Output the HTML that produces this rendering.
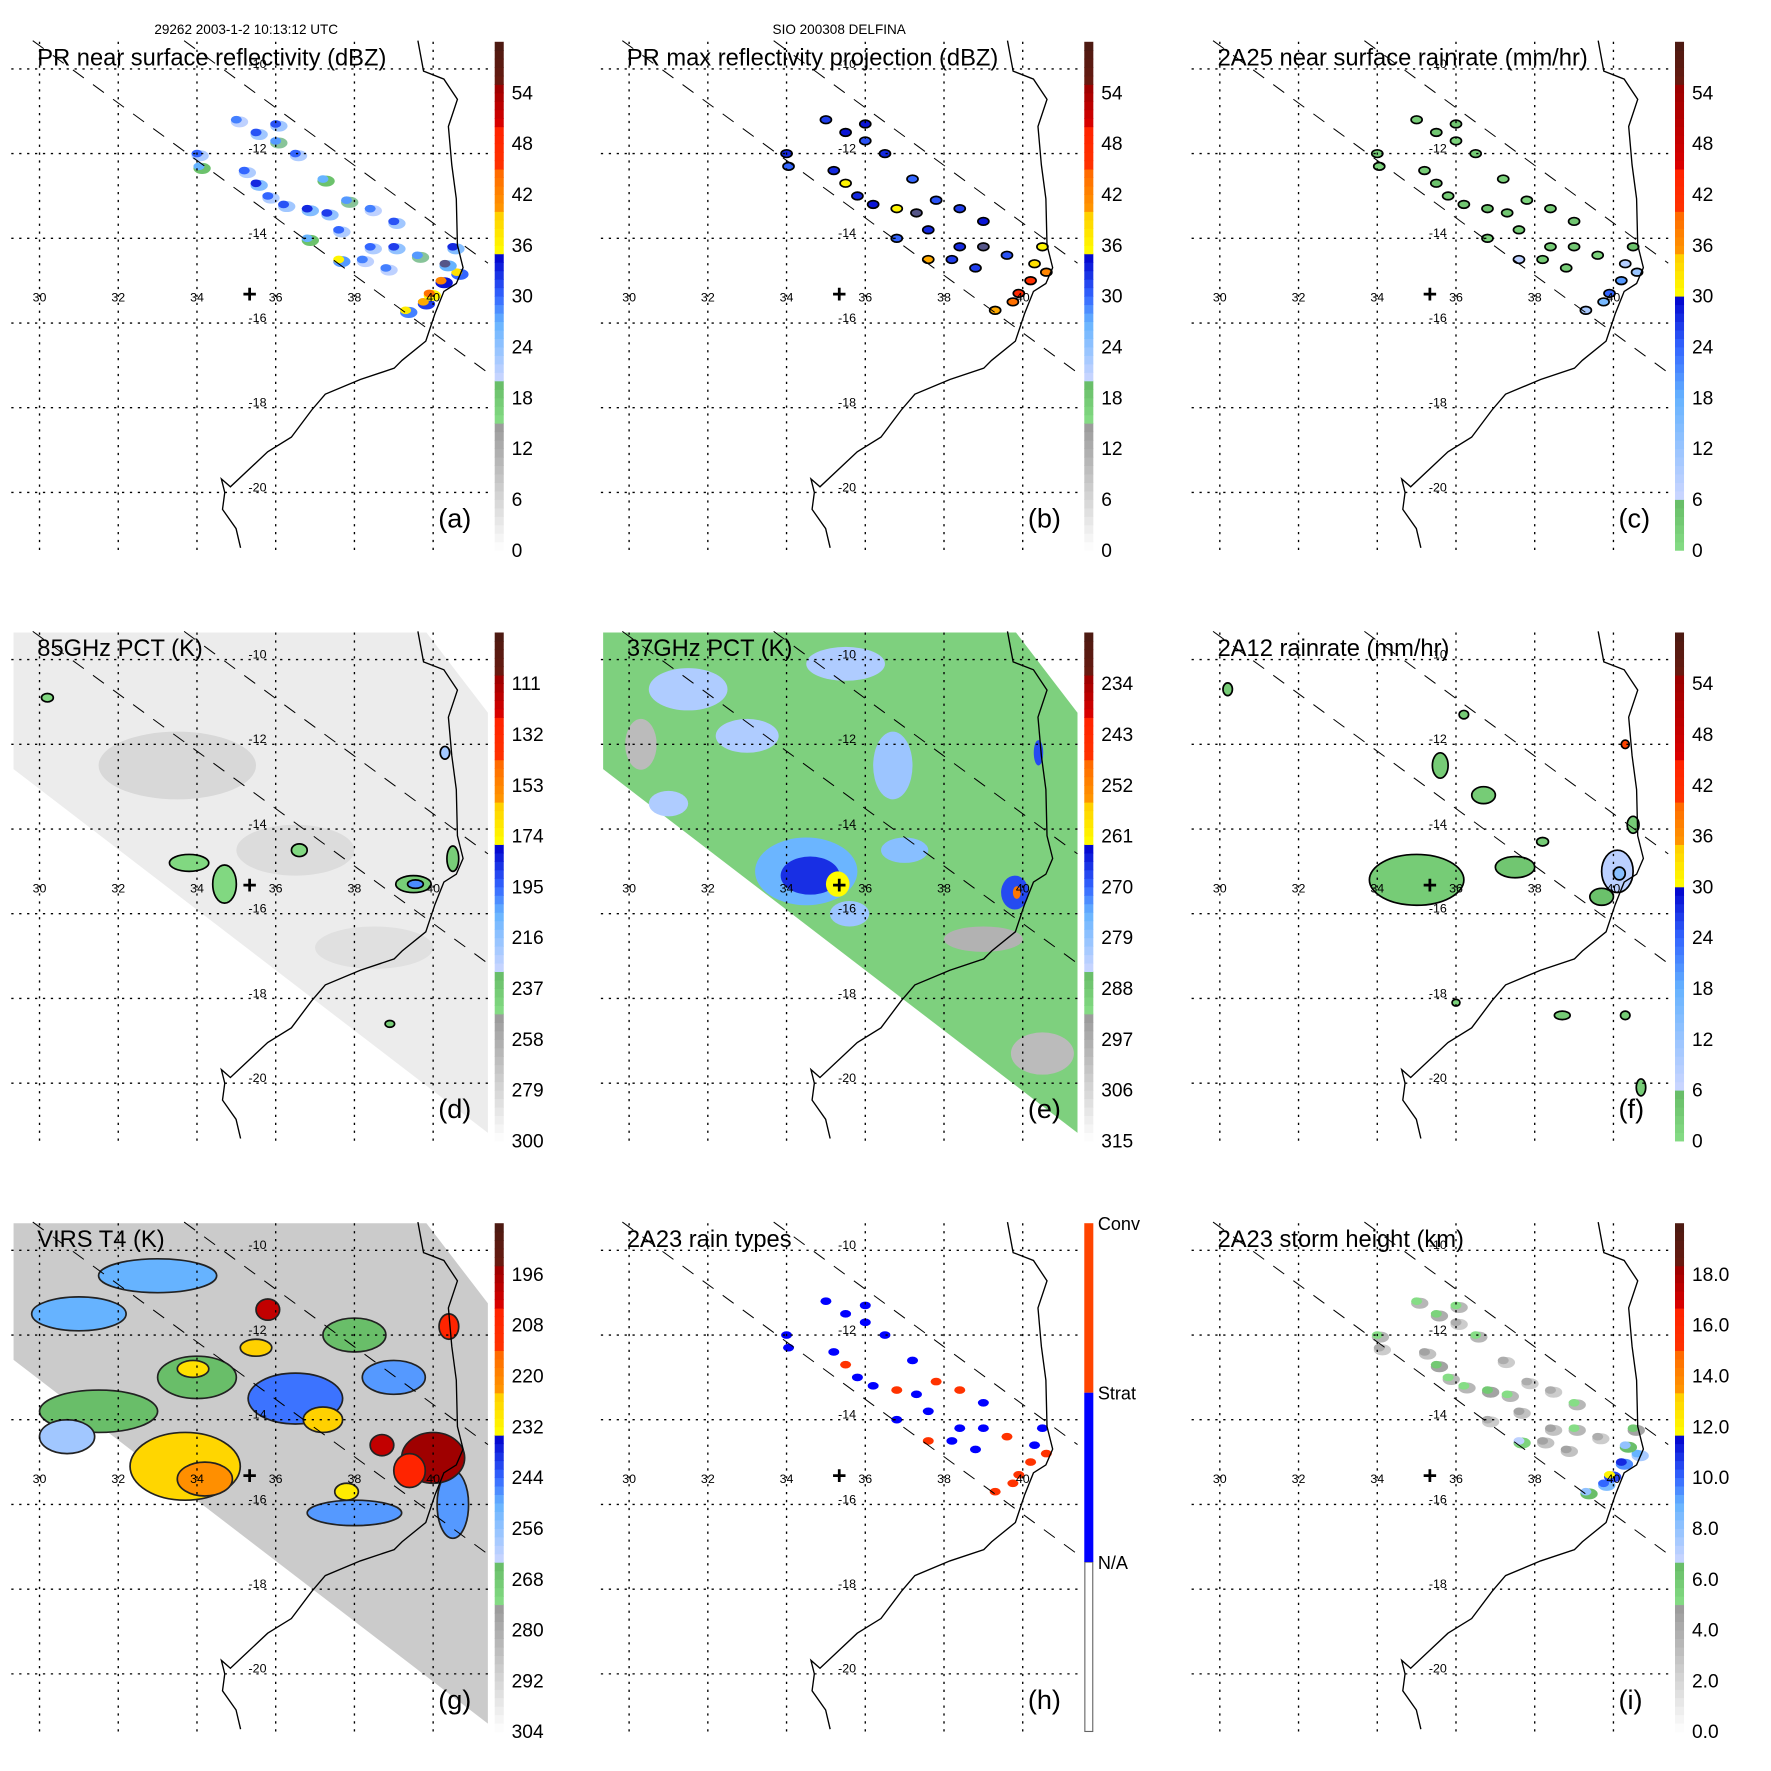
<!DOCTYPE html>
<html><head><meta charset="utf-8"><style>
html,body{margin:0;padding:0;background:#fff;}
svg{display:block;font-family:"Liberation Sans",sans-serif;}
</style></head><body>
<svg id="fig" width="1771" height="1771" viewBox="0 0 1568 1568" xmlns="http://www.w3.org/2000/svg">
<text x="218" y="30" font-size="12" text-anchor="middle">29262 2003-1-2 10:13:12 UTC</text>
<text x="743" y="30" font-size="12" text-anchor="middle">SIO 200308 DELFINA</text>
</svg>
<script>
// ---------- data ----------
const prLon=[34.0,34.05,35.0,35.5,35.2,35.5,36.0,36.5,36.2,36.8,37.2,37.3,37.6,38.4,39.0,37.6,38.4,39.0,39.6,40.5,40.6,40.2,39.75,39.3,38.2,36.8,35.8,37.8,36.0,39.9,40.3,38.8];
const prLat=[-12.0,-12.3,-11.2,-11.5,-12.4,-12.7,-11.7,-12.0,-13.2,-13.3,-12.6,-13.4,-13.8,-13.3,-13.6,-14.5,-14.2,-14.2,-14.4,-14.2,-14.8,-15.0,-15.5,-15.7,-14.5,-14.0,-13.0,-13.1,-11.3,-15.3,-14.6,-14.7];
const prDbz=[30,27,29,31,30,33,28,30,31,33,27,32,30,29,31,36,30,32,28,33,38,42,40,37,29,27,30,28,31,44,35,29];
const prMax=[33,30,32,34,33,36,31,33,34,36,30,35,33,32,34,40,33,35,31,36,42,46,44,40,32,30,33,31,34,48,38,32];
const prRain=[3,2,3,4,3,5,2,3,4,5,2,4,3,3,4,8,3,4,2,5,12,20,16,10,3,2,3,2,4,24,9,3];
const prType=[1,1,1,1,1,2,1,1,1,2,1,1,1,2,1,2,1,1,2,1,2,2,2,2,1,1,1,2,1,2,1,1];
const prHgt=[5,4,5,5.5,4.5,6,4,5,5,6,4,5,4.5,4,5,7,4.5,5,4,6,9,11,10,8,4.5,4,5,4,5,12,8,4.5];
const d85Lon=[33.5,36.5,38.5,33.8,34.7,36.6,39.5,39.55,40.5,40.3,30.2,38.9];
const d85Lat=[-12.5,-14.5,-16.8,-14.8,-15.3,-14.5,-15.3,-15.3,-14.7,-12.2,-10.9,-18.6];
const d85W=[2.0,1.5,1.5,0.5,0.3,0.2,0.45,0.2,0.15,0.12,0.15,0.12];
const d85H=[0.8,0.6,0.5,0.2,0.45,0.15,0.2,0.1,0.3,0.15,0.1,0.08];
const d85Val=[280,282,284,245,245,245,240,200,240,220,245,240];
const e37Lon=[31.5,33.0,35.5,36.7,31.0,37.0,30.3,39.0,40.5,34.5,34.6,35.3,39.8,39.85,40.4,35.6];
const e37Lat=[-10.7,-11.8,-10.1,-12.5,-13.4,-14.5,-12.0,-16.6,-19.3,-15.0,-15.1,-15.3,-15.5,-15.5,-12.2,-16.0];
const e37W=[1.0,0.8,1.0,0.5,0.5,0.6,0.4,1.0,0.8,1.3,0.75,0.3,0.35,0.1,0.12,0.5];
const e37H=[0.5,0.4,0.4,0.8,0.3,0.3,0.6,0.3,0.5,0.8,0.45,0.3,0.4,0.15,0.3,0.3];
const e37Val=[282,282,282,280,282,278,300,298,300,275,266,262,268,250,268,280];
const f12Lon=[35.0,35.6,36.7,37.5,38.2,40.1,39.7,40.5,36.0,38.7,40.3,40.7,30.2,36.2,40.3,40.15];
const f12Lat=[-15.2,-12.5,-13.2,-14.9,-14.3,-15.0,-15.6,-13.9,-18.1,-18.4,-18.4,-20.1,-10.7,-11.3,-12.0,-15.05];
const f12W=[1.2,0.2,0.3,0.5,0.15,0.4,0.3,0.15,0.1,0.2,0.12,0.12,0.12,0.12,0.1,0.15];
const f12H=[0.6,0.3,0.2,0.25,0.1,0.5,0.2,0.2,0.08,0.1,0.1,0.2,0.15,0.1,0.1,0.15];
const f12Val=[3,3,3,4,3,8,5,3,2,3,3,3,3,3,40,14];
const gIrLon=[31.0,33.0,36.5,39.0,38.0,40.5,31.5,34.0,38.0,30.7,33.7,34.2,40.0,39.4,38.7,35.8,40.4,37.2,37.8,35.5,33.9];
const gIrLat=[-11.5,-10.6,-13.5,-13.0,-16.2,-16.0,-13.8,-13.0,-12.0,-14.4,-15.1,-15.4,-14.9,-15.2,-14.6,-11.4,-11.8,-14.0,-15.7,-12.3,-12.8];
const gIrW=[1.2,1.5,1.2,0.8,1.2,0.4,1.5,1.0,0.8,0.7,1.4,0.7,0.8,0.4,0.3,0.3,0.25,0.5,0.3,0.4,0.4];
const gIrH=[0.4,0.4,0.6,0.4,0.3,0.8,0.5,0.5,0.4,0.4,0.8,0.4,0.6,0.4,0.25,0.25,0.3,0.3,0.2,0.2,0.2];
const gIrVal=[250,250,245,248,248,248,265,265,265,258,226,222,195,205,200,200,205,225,230,225,228];

// ---------- geometry ----------
const NS="http://www.w3.org/2000/svg";
const svg=document.getElementById('fig');
const COLX=[0,522,1045], ROWY=[0,523,1046];
function px(c,lon){return COLX[c]+35+(lon-30)*34.85;}
function py(r,lat){return ROWY[r]+61+(-10-lat)*37.5;}
function mk(tag,attrs,parent){const e=document.createElementNS(NS,tag);for(const k in attrs)e.setAttribute(k,attrs[k]);(parent||svg).appendChild(e);return e;}
function hex(h){return [parseInt(h.substr(1,2),16),parseInt(h.substr(3,2),16),parseInt(h.substr(5,2),16)];}
function interp(stops,f){f=Math.max(0,Math.min(1,f));for(let i=0;i<stops.length-1;i++){const a=stops[i],b=stops[i+1];if(f>=a[0]&&f<=b[0]){const t=b[0]==a[0]?0:(f-a[0])/(b[0]-a[0]);const A=hex(a[1]),B=hex(b[1]);return 'rgb('+A.map((v,k)=>Math.round(v+(B[k]-v)*t)).join(',')+')';}}return stops[stops.length-1][1];}
const PAL_DBZ=[[0,'#ffffff'],[0.249,'#999999'],[0.25,'#86dd86'],[0.333,'#66bb66'],[0.334,'#ccd6ff'],[0.45,'#66b3ff'],[0.5,'#3366ff'],[0.583,'#0000cc'],[0.584,'#ffff00'],[0.666,'#ffcc00'],[0.667,'#ff9900'],[0.75,'#ff6600'],[0.751,'#ff3300'],[0.833,'#ff2200'],[0.834,'#dd0000'],[0.916,'#990000'],[0.917,'#6a1a10'],[1,'#4a1a12']];
const PAL_RAIN=[[0,'#86dd86'],[0.1,'#66bb66'],[0.101,'#ccd6ff'],[0.3,'#66b3ff'],[0.4,'#3366ff'],[0.5,'#0000cc'],[0.501,'#ffff00'],[0.583,'#ffcc00'],[0.584,'#ff9900'],[0.666,'#ff6600'],[0.667,'#ff3300'],[0.75,'#ff2200'],[0.751,'#dd0000'],[0.916,'#990000'],[0.917,'#6a1a10'],[1,'#4a1a12']];
const coast=[[370,36],[375,63],[393,70],[405,88],[397,112],[400,146],[404,176],[405,217],[410,237],[404,251],[393,258],[385,278],[377,302],[356,319],[349,326],[319,336],[288,349],[276,363],[258,387],[237,400],[204,431],[196,424],[199,436],[197,451],[209,468],[213,485]];
const panels=[
 {c:0,r:0,id:'a',title:'PR near surface reflectivity (dBZ)',pal:PAL_DBZ,labels:['54','48','42','36','30','24','18','12','6','0'],swath:'pr'},
 {c:1,r:0,id:'b',title:'PR max reflectivity projection (dBZ)',pal:PAL_DBZ,labels:['54','48','42','36','30','24','18','12','6','0'],swath:'pr'},
 {c:2,r:0,id:'c',title:'2A25 near surface rainrate (mm/hr)',pal:PAL_RAIN,labels:['54','48','42','36','30','24','18','12','6','0'],swath:'pr'},
 {c:0,r:1,id:'d',title:'85GHz PCT (K)',pal:PAL_DBZ,labels:['111','132','153','174','195','216','237','258','279','300'],swath:'tmi',bg:'#ececec'},
 {c:1,r:1,id:'e',title:'37GHz PCT (K)',pal:PAL_DBZ,labels:['234','243','252','261','270','279','288','297','306','315'],swath:'tmi',bg:'#7ed07e'},
 {c:2,r:1,id:'f',title:'2A12 rainrate (mm/hr)',pal:PAL_RAIN,labels:['54','48','42','36','30','24','18','12','6','0'],swath:'tmi'},
 {c:0,r:2,id:'g',title:'VIRS T4 (K)',pal:PAL_DBZ,labels:['196','208','220','232','244','256','268','280','292','304'],swath:'tmi',bg:'#cbcbcb'},
 {c:1,r:2,id:'h',title:'2A23 rain types',pal:null,labels:[],swath:'pr'},
 {c:2,r:2,id:'i',title:'2A23 storm height (km)',pal:PAL_DBZ,labels:['18.0','16.0','14.0','12.0','10.0','8.0','6.0','4.0','2.0','0.0'],swath:'pr'}
];
function blob(g,c,r,lon,lat,w,h,fill,stroke){
  const e=mk('ellipse',{cx:px(c,lon),cy:py(r,lat),rx:w*34.85,ry:h*37.5,fill:fill},g);
  if(stroke){e.setAttribute('stroke',stroke);e.setAttribute('stroke-width','1.5');}
  
  
  return e;
}
panels.forEach(p=>{
  const ox=COLX[p.c], oy=ROWY[p.r];
  const g=mk('g',{});
  
  
  const cp=mk('clipPath',{id:'clip'+p.id},svg);
  mk('rect',{x:ox+10,y:oy+37,width:422,height:453},cp);
  const m=mk('g',{'clip-path':'url(#clip'+p.id+')'},g);
  if(p.bg){
    const s=mk('polygon',{points:[[12,35],[376,35],[432,108],[432,480],[12,158]].map(q=>(q[0]+ox)+','+(q[1]+oy)).join(' '),fill:p.bg},m);
    
    
  }
  const mm=(v,lo,hi)=>(v-lo)/(hi-lo);
  if(p.id==='d'){d85Lon.forEach((l,i)=>blob(m,p.c,p.r,l,d85Lat[i],d85W[i],d85H[i],interp(p.pal,mm(300-d85Val[i],0,210)),d85Val[i]<250?'#000':null));}
  if(p.id==='e'){e37Lon.forEach((l,i)=>blob(m,p.c,p.r,l,e37Lat[i],e37W[i],e37H[i],interp(p.pal,mm(315-e37Val[i],0,90))));}
  if(p.id==='f'){f12Lon.forEach((l,i)=>blob(m,p.c,p.r,l,f12Lat[i],f12W[i],f12H[i],interp(p.pal,f12Val[i]/60),'#000'));}
  if(p.id==='g'){gIrLon.forEach((l,i)=>blob(m,p.c,p.r,l,gIrLat[i],gIrW[i],gIrH[i],interp(p.pal,mm(304-gIrVal[i],0,120)),'#222'));}
  if(p.swath==='pr'){
    prLon.forEach((l,i)=>{
      let col,halo,st=null;
      if(p.id==='a'){col=interp(p.pal,prDbz[i]/60);halo=interp(p.pal,(prDbz[i]-8)/60);}
      if(p.id==='b'){col=interp(p.pal,prMax[i]/60);st='#000';}
      if(p.id==='c'){col=interp(p.pal,prRain[i]/60);st='#000';}
      if(p.id==='h') col=prType[i]===2?'#ff3300':'#0000ff';
      if(p.id==='i'){col=interp(p.pal,prHgt[i]/20);halo=interp(p.pal,(prHgt[i]-1.5)/20);}
      if(halo) blob(m,p.c,p.r,l+0.08,prLat[i]-0.05,0.22,0.13,halo,null);
      blob(m,p.c,p.r,l,prLat[i],0.14,0.09,col,st);
    });
  }
  for(let lon=30;lon<=40;lon+=2){const x=px(p.c,lon);const e=mk('line',{x1:x,y1:oy+37,x2:x,y2:oy+490,stroke:'#000','stroke-width':1.2,'stroke-dasharray':'2,5'},g);
    const t=mk('text',{x:x,y:oy+267,'font-size':11,'text-anchor':'middle'},g);t.textContent=lon;}
  for(let lat=-10;lat>=-20;lat-=2){const y=py(p.r,lat);const e=mk('line',{x1:ox+10,y1:y,x2:ox+432,y2:y,stroke:'#000','stroke-width':1.2,'stroke-dasharray':'2,5'},g);
    const t=mk('text',{x:ox+228,y:y-1,'font-size':11,'text-anchor':'middle'},g);t.textContent=lat;}
  [[163,36,432,233],[29,36,432,330]].forEach(s=>{const e=mk('line',{x1:ox+s[0],y1:oy+s[1],x2:ox+s[2],y2:oy+s[3],stroke:'#000','stroke-width':0.9,'stroke-dasharray':'12,10'},g);});
  const cl=mk('polyline',{points:coast.map(q=>(q[0]+ox)+','+(q[1]+oy)).join(' '),fill:'none',stroke:'#000','stroke-width':1.2},g);
  
  
  const cr=mk('text',{x:ox+221,y:oy+268,'font-size':22,'font-weight':'bold','text-anchor':'middle'},g);cr.textContent='+';
  
  
  const ti=mk('text',{x:ox+33,y:oy+58,'font-size':21},g);ti.textContent=p.title;
  
  
  const le=mk('text',{x:ox+388,y:oy+467,'font-size':24},g);le.textContent='('+p.id+')';
  
  
  const cb=mk('g',{},g);
  
  
  const top=oy+37,bot=oy+487,bx=ox+438;
  if(p.pal){
    const n=60;for(let k=0;k<n;k++){const f=(k+0.5)/n;mk('rect',{x:bx,y:bot-(k+1)*(bot-top)/n,width:8,height:(bot-top)/n+0.6,fill:interp(p.pal,f)},cb);}
    p.labels.forEach((s,k)=>{const t=mk('text',{x:ox+453,y:top+45*(k+1)+6,'font-size':17},cb);t.textContent=s;});
  } else {
    mk('rect',{x:bx+0.5,y:top+300,width:7,height:150,fill:'#fff',stroke:'#666','stroke-width':1},cb);
    mk('rect',{x:bx,y:top+150,width:8,height:150,fill:'#0000ff'},cb);
    mk('rect',{x:bx,y:top,width:8,height:150,fill:'#ff4400'},cb);
    [['Conv',0],['Strat',150],['N/A',300]].forEach(a=>{const t=mk('text',{x:ox+450,y:top+a[1]+6,'font-size':16},cb);t.textContent=a[0];});
  }
});
</script>
</body></html>
